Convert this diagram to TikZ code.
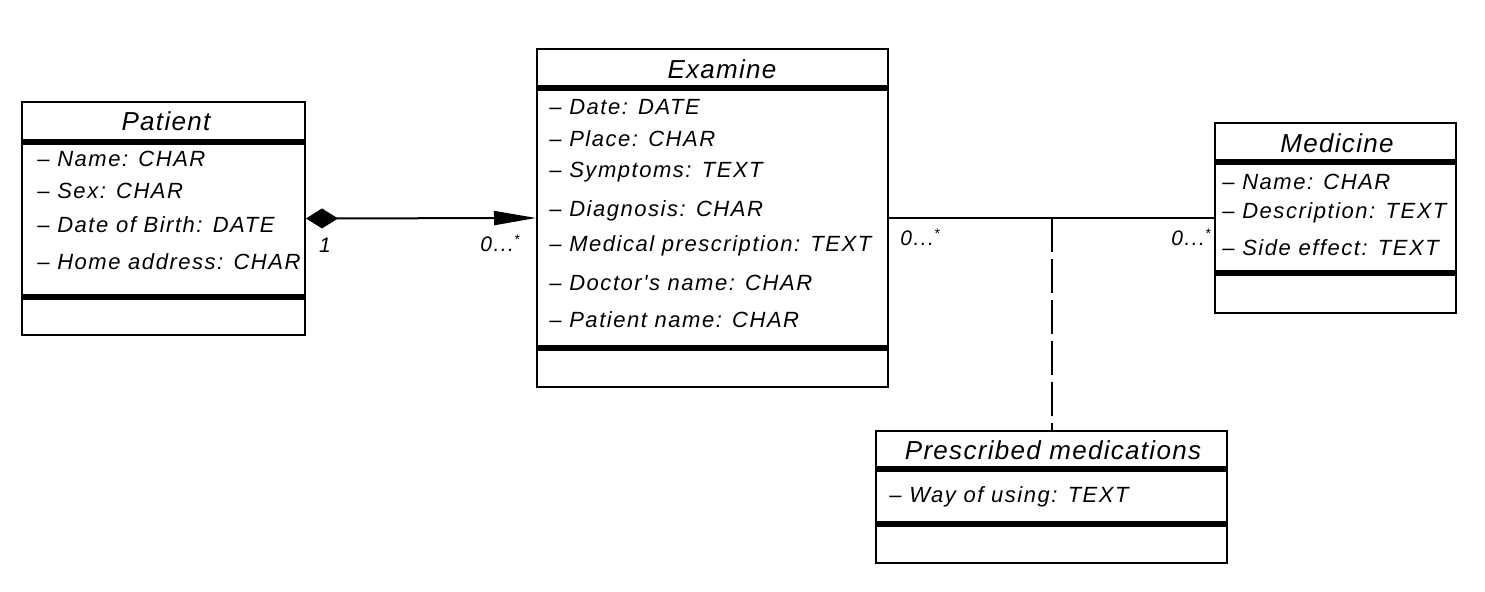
\documentclass[tikz,border=0pt]{standalone}
\usepackage{fontspec}
\setmainfont{Liberation Sans}
\newfontfamily\attrfont[LetterSpace=7]{Liberation Sans}
\newfontfamily\titlefont[LetterSpace=5]{Liberation Sans}
\usetikzlibrary{arrows.meta,fit,calc}
\tikzset{
  classbox/.style={draw, line width=1pt, inner sep=0pt},
  sep/.style={line width=2.6pt},
  attr/.style={anchor=west, inner sep=0pt, font=\attrfont\itshape\fontsize{11}{12}\selectfont},
  ctitle/.style={inner sep=0pt, font=\titlefont\itshape\fontsize{13}{14}\selectfont},
  mult/.style={inner sep=0pt, font=\attrfont\itshape\fontsize{10.5}{12}\selectfont},
  conn/.style={line width=1pt},
}
\newcommand{\mstar}{0...\raisebox{0.6ex}{\scriptsize *}}
\newcommand{\dsh}{\textendash\ }
\begin{document}
\begin{tikzpicture}[x=0.5pt,y=-0.5pt]
\useasboundingbox (0,0) rectangle (1485,592);
% Patient
\node[classbox, fit={(22,102) (305,335)}] (patient) {};
\draw[sep] (22,142) -- (305,142);
\draw[sep] (22,297) -- (305,297);
\node[ctitle] (pt) at (166,121) {Patient};
\node[attr] (p1) at (37,159) {\dsh Name: CHAR};
\node[attr] (p2) at (37,191) {\dsh Sex: CHAR};
\node[attr] (p3) at (37,225) {\dsh Date of Birth: DATE};
\node[attr] (p4) at (37,262) {\dsh Home address: CHAR};
% Examine
\node[classbox, fit={(537,49) (888,387)}] (examine) {};
\draw[sep] (537,88) -- (888,88);
\draw[sep] (537,348) -- (888,348);
\node[ctitle] (et) at (722,69) {Examine};
\node[attr] (e1) at (549,107) {\dsh Date: DATE};
\node[attr] (e2) at (549,139) {\dsh Place: CHAR};
\node[attr] (e3) at (549,172) {\dsh Symptoms: TEXT};
\node[attr] (e4) at (549,211) {\dsh Diagnosis: CHAR};
\node[attr] (e5) at (549,246) {\dsh Medical prescription: TEXT};
\node[attr] (e6) at (549,283) {\dsh Doctor's name: CHAR};
\node[attr] (e7) at (549,320) {\dsh Patient name: CHAR};
% Medicine
\node[classbox, fit={(1215,123) (1456,313)}] (medicine) {};
\draw[sep] (1215,162) -- (1456,162);
\draw[sep] (1215,273) -- (1456,273);
\node[ctitle] (mt) at (1337,143) {Medicine};
\node[attr] (m1) at (1222,182) {\dsh Name: CHAR};
\node[attr] (m2) at (1222,213) {\dsh Description: TEXT};
\node[attr] (m3) at (1222,248) {\dsh Side effect: TEXT};
% Prescribed medications
\node[classbox, fit={(876,431) (1227,563)}] (presc) {};
\draw[sep] (876,469) -- (1227,469);
\draw[sep] (876,524) -- (1227,524);
\node[ctitle] (prt) at (1053,450) {Prescribed medications};
\node[attr] (pr1) at (889,497) {\dsh Way of using: TEXT};
% connectors
\draw[conn, {Diamond[length=16pt,width=10pt]}-{Triangle[length=21pt,width=7pt]}] (patient.east) -- (examine.west);
\draw[conn] (examine.east) -- (medicine.west);
\coordinate (j) at ($(examine.east)!0.5!(medicine.west)$);
\draw[conn, dash pattern=on 17pt off 3.5pt] (j) -- (presc.north);
% multiplicities
\node[mult] (l1) at (325,245) {1};
\node[mult] (l2) at (500,243) {\mstar};
\node[mult] (l3) at (920,237) {\mstar};
\node[mult] (l4) at (1191,237) {\mstar};
\end{tikzpicture}
\end{document}
